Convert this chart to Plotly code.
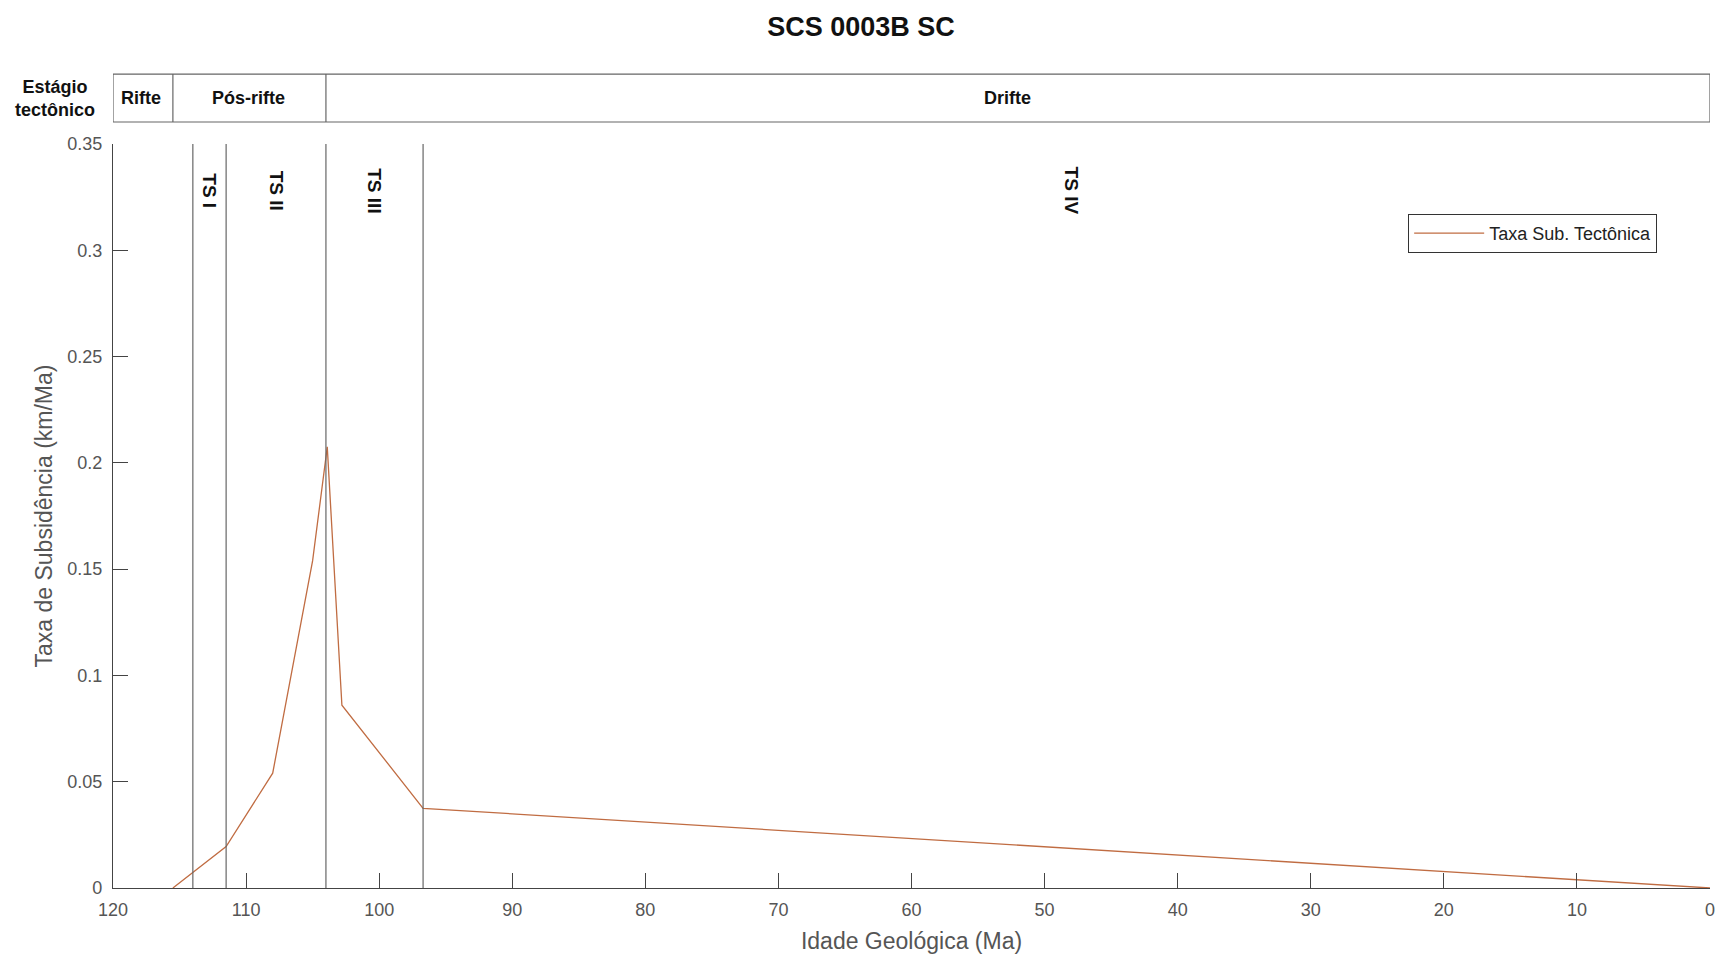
import plotly.graph_objects as go

# Data
age = [115.5, 111.5, 108.0, 105.0, 103.9, 102.8, 96.7, 0.0]
rate = [0.0, 0.0195, 0.054, 0.154, 0.2075, 0.086, 0.0375, 0.0]
boundaries = [114.0, 111.5, 104.0, 96.7]
seq_labels = ["TS I", "TS II", "TS III", "TS IV"]
seq_pos = [112.75, 107.75, 100.35, 48.0]
stage_names = ["Rifte", "Pós-rifte", "Drifte"]
stage_edges = [120.0, 115.5, 104.0, 0.0]
stage_label_pos = [117.9, 109.85, 52.8]
x_ticks = [120, 110, 100, 90, 80, 70, 60, 50, 40, 30, 20, 10, 0]
y_ticks = [0, 0.05, 0.1, 0.15, 0.2, 0.25, 0.3, 0.35]
y_ticklabels = ["0", "0.05", "0.1", "0.15", "0.2", "0.25", "0.3", "0.35"]

FONT = "Liberation Sans, Arial, sans-serif"
GRAY = "#555555"
AX = "#444444"

fig = go.Figure()
fig.add_trace(go.Scatter(x=age, y=rate, mode="lines", name="Taxa Sub. Tectônica",
                         line=dict(color="#c06c42", width=1.3)))

shapes = []
annotations = []
for b in boundaries:
    shapes.append(dict(type="line", xref="x", yref="y", x0=b, x1=b, y0=0, y1=0.35,
                       line=dict(color="#666666", width=1.2)))
for lab, p in zip(seq_labels, seq_pos):
    annotations.append(dict(x=p, y=0.328, xref="x", yref="y", text="<b>" + lab + "</b>",
                            textangle=90, showarrow=False, yanchor="middle",
                            font=dict(family=FONT, size=19, color="#111111")))
y0h, y1h = 1.0296, 1.094
shapes.append(dict(type="rect", xref="x", yref="paper", x0=stage_edges[0], x1=stage_edges[-1],
                   y0=y0h, y1=y1h, line=dict(color="#666666", width=1.2)))
for e in stage_edges[1:-1]:
    shapes.append(dict(type="line", xref="x", yref="paper", x0=e, x1=e, y0=y0h, y1=y1h,
                       line=dict(color="#666666", width=1.2)))
for n, p in zip(stage_names, stage_label_pos):
    annotations.append(dict(x=p, y=(y0h + y1h) / 2, xref="x", yref="paper",
                            text="<b>" + n + "</b>", showarrow=False, yanchor="middle",
                            font=dict(family=FONT, size=18, color="#111111")))
annotations.append(dict(x=-0.0363, y=(y0h + y1h) / 2, xref="paper", yref="paper",
                        text="<b>Estágio<br>tectônico</b>", showarrow=False, xanchor="center",
                        yanchor="middle",
                        font=dict(family=FONT, size=18, color="#111111")))

fig.update_layout(
    width=1722, height=954,
    margin=dict(l=113, r=12, t=144, b=66),
    paper_bgcolor="white", plot_bgcolor="white",
    title=dict(text="<b>SCS 0003B SC</b>", x=0.5, xanchor="center", y=0.9717, yanchor="middle",
               font=dict(family=FONT, size=27, color="#111111")),
    shapes=shapes, annotations=annotations,
    showlegend=True,
    legend=dict(x=0.811, y=0.906, xanchor="left", yanchor="top", bordercolor="#333333",
                borderwidth=1, bgcolor="white", itemwidth=70,
                font=dict(family=FONT, size=18, color="#222222")),
    xaxis=dict(range=[120, 0], tickmode="array", tickvals=x_ticks, ticks="inside", ticklen=15,
               tickcolor=AX, showline=True, linecolor=AX, linewidth=1.2, showgrid=False,
               zeroline=False, ticklabelstandoff=5, ticklabeloverflow="allow",
               automargin=False,
               tickfont=dict(family=FONT, size=18, color=GRAY),
               title=dict(text="Idade Geológica (Ma)", standoff=14,
                          font=dict(family=FONT, size=23, color=GRAY))),
    yaxis=dict(range=[0, 0.35], tickmode="array", tickvals=y_ticks, ticktext=y_ticklabels,
               ticks="inside", ticklen=15, tickcolor=AX, showline=True, linecolor=AX,
               linewidth=1.2, showgrid=False, zeroline=False, ticklabelstandoff=6,
               automargin=False,
               tickfont=dict(family=FONT, size=18, color=GRAY),
               title=dict(text="Taxa de Subsidência (km/Ma)", standoff=8,
                          font=dict(family=FONT, size=23, color=GRAY))),
)

fig.write_html("out.html", config={"displayModeBar": False},
               post_script="document.body.style.margin='0';document.body.style.overflow='hidden';")
